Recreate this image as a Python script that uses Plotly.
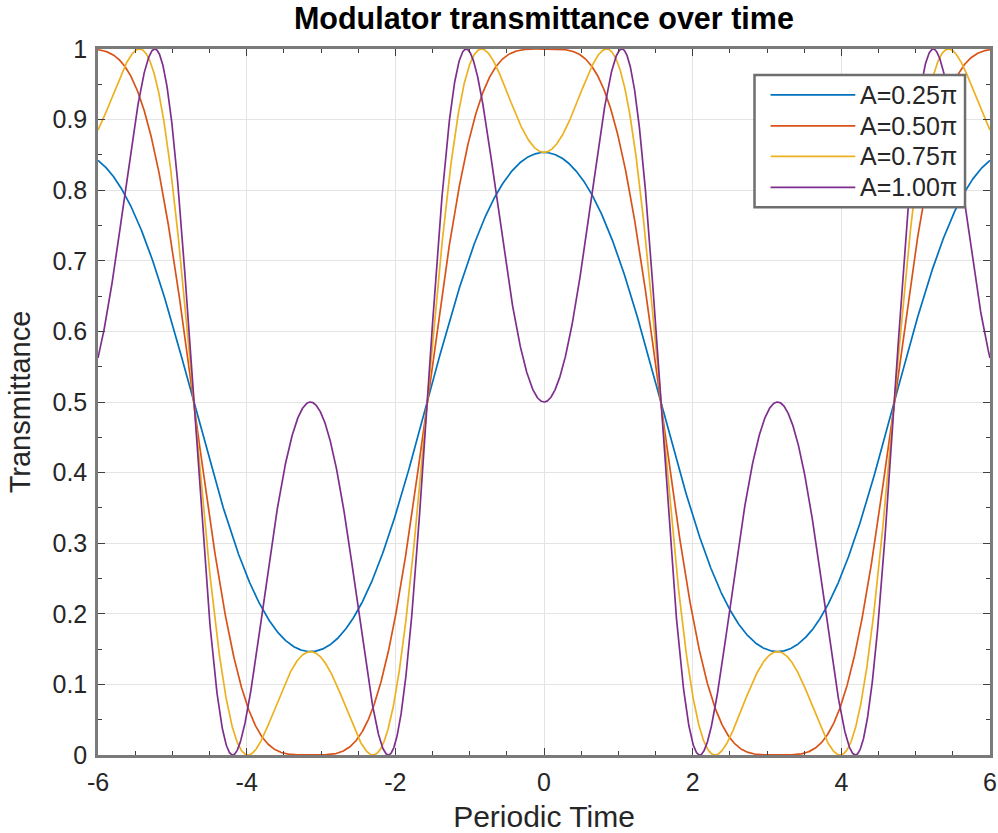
import numpy as np
import plotly.graph_objects as go

# Modulation depths (in units of pi) shown in the legend
amplitudes = [0.25, 0.50, 0.75, 1.00]
labels = ["A=0.25π", "A=0.50π", "A=0.75π", "A=1.00π"]
colors = ["#0072BD", "#D95319", "#EDB120", "#7E2F8E"]

# Tick labels
x_ticks = [-6, -4, -2, 0, 2, 4, 6]
x_ticktext = ["-6", "-4", "-2", "0", "2", "4", "6"]
y_ticks = [0, 0.1, 0.2, 0.3, 0.4, 0.5, 0.6, 0.7, 0.8, 0.9, 1]
y_ticktext = ["0", "0.1", "0.2", "0.3", "0.4", "0.5", "0.6", "0.7", "0.8", "0.9", "1"]

# Periodic time axis
t = np.linspace(-6, 6, 2401)

FONT = "Liberation Sans, Arial, Helvetica"
TXT = "#262626"

fig = go.Figure()
for a, name, c in zip(amplitudes, labels, colors):
    # Mach-Zehnder transmittance biased at quadrature, driven by A*cos(t)
    trans = np.cos(a * np.pi / 2 * np.cos(t) - np.pi / 4) ** 2
    fig.add_trace(go.Scatter(x=t, y=trans, mode="lines", name=name,
                             line=dict(color=c, width=1.7), showlegend=False))

axis_common = dict(
    showline=True, linecolor="#7a7a7a", linewidth=2.5, mirror="ticks",
    ticks="inside", ticklen=7, tickcolor="#404040", tickwidth=1,
    showgrid=True, gridcolor="#e4e4e4", gridwidth=1, zeroline=False,
    automargin=False,
    tickfont=dict(family=FONT, size=25, color=TXT),
)

fig.update_xaxes(range=[-6, 6], tickvals=x_ticks, ticktext=x_ticktext,
                 ticklabelstandoff=3,
                 minor=dict(dtick=0.5, ticks="inside", ticklen=4, tickcolor="#404040", showgrid=False),
                 title=dict(text="Periodic Time", standoff=12,
                            font=dict(family=FONT, size=30, color=TXT)),
                 **axis_common)
fig.update_yaxes(range=[0, 1], tickvals=y_ticks, ticktext=y_ticktext,
                 ticklabelstandoff=3,
                 minor=dict(dtick=0.05, ticks="inside", ticklen=4, tickcolor="#404040", showgrid=False),
                 title=dict(text="Transmittance", standoff=14,
                            font=dict(family=FONT, size=29, color=TXT)),
                 **axis_common)

# Legend box drawn in the upper-right corner of the axes
box = dict(x0=0.736, x1=0.972, y0=0.776, y1=0.963)
row_y = [0.935, 0.891, 0.848, 0.804]
shapes = [dict(type="rect", xref="paper", yref="paper", **box,
               line=dict(color="#6e6e6e", width=2.5), fillcolor="white", layer="above")]
annotations = []
for name, c, ry in zip(labels, colors, row_y):
    shapes.append(dict(type="line", xref="paper", yref="paper", x0=0.754, x1=0.849,
                       y0=ry, y1=ry, line=dict(color=c, width=1.8), layer="above"))
    annotations.append(dict(xref="paper", yref="paper", x=0.852, y=ry, xanchor="left",
                            yanchor="middle", text=name, showarrow=False,
                            font=dict(family=FONT, size=25, color=TXT)))

fig.update_layout(
    width=998, height=833,
    margin=dict(l=98, r=8, t=49, b=78),
    paper_bgcolor="white", plot_bgcolor="white",
    title=dict(text="<b>Modulator transmittance over time</b>", x=0.545, xanchor="center",
               y=0.978, yanchor="middle",
               font=dict(family=FONT, size=30.5, color="black")),
    shapes=shapes, annotations=annotations,
    showlegend=False,
)

fig.write_html("out.html")
